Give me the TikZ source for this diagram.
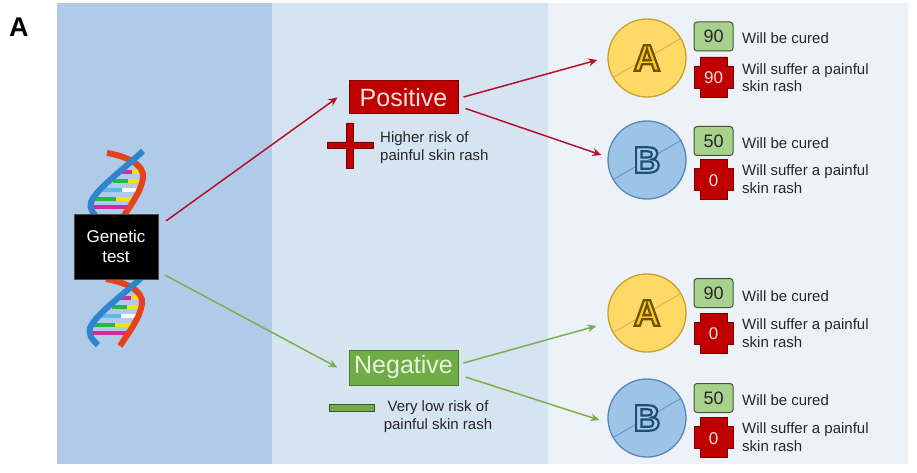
\documentclass[tikz,border=0pt]{standalone}
\usepackage{fontspec}
\setmainfont{Liberation Sans}
\usetikzlibrary{arrows.meta}

\definecolor{panelone}{HTML}{AFCBE8}
\definecolor{paneltwo}{HTML}{D6E4F2}
\definecolor{panelthree}{HTML}{EDF2F9}
\definecolor{posred}{HTML}{C00000}
\definecolor{posdark}{HTML}{7A0000}
\definecolor{postext}{HTML}{F8E0E0}
\definecolor{neggreen}{HTML}{70AD47}
\definecolor{negdark}{HTML}{4E7A30}
\definecolor{negtext}{HTML}{E8F3DF}
\definecolor{arrowred}{HTML}{B8102A}
\definecolor{arrowgreen}{HTML}{78B04E}
\definecolor{curegreen}{HTML}{A9D18E}
\definecolor{curedark}{HTML}{3F5A2E}
\definecolor{pillyellow}{HTML}{FFD966}
\definecolor{pillgold}{HTML}{C9A227}
\definecolor{lettergold}{HTML}{FFC61A}
\definecolor{pillblue}{HTML}{9DC3E6}
\definecolor{pillnavy}{HTML}{5B87B8}
\definecolor{letterblue}{HTML}{A9CBEA}
\definecolor{dnared}{HTML}{E4421A}
\definecolor{dnablue}{HTML}{2F84CC}
\definecolor{runggreen}{HTML}{2BB34A}
\definecolor{rungyellow}{HTML}{F2E30C}
\definecolor{rungmagenta}{HTML}{CF2C9D}
\definecolor{rungblue}{HTML}{5BB8E8}
\definecolor{bodytext}{HTML}{262626}

% outlined glyphs: fill in the current colour, stroke with the given RGB values
\newcommand\strokedglyph[2]{%
  \special{pdf:literal direct 2 Tr 2.2 w #1 RG}#2\special{pdf:literal direct 0 Tr}}

% red cross badge: centre x, centre y, number, node name
\newcommand\rashcross[4]{%
  \draw[crossline] ({#1-19.5},{#2-11}) -- ({#1-13.5},{#2-11}) -- ({#1-13.5},{#2-20})
    -- ({#1+13.5},{#2-20}) -- ({#1+13.5},{#2-11}) -- ({#1+19.5},{#2-11})
    -- ({#1+19.5},{#2+11}) -- ({#1+13.5},{#2+11}) -- ({#1+13.5},{#2+20})
    -- ({#1-13.5},{#2+20}) -- ({#1-13.5},{#2+11}) -- ({#1-19.5},{#2+11}) -- cycle;
  \node[crosstext] (#4) at (#1,{#2+1}) {#3};}

\tikzset{
  gtbox/.style={fill=black, draw=black!70, text=white, minimum width=84pt,
    minimum height=65pt, inner sep=0pt, align=center,
    font=\fontsize{17}{20}\selectfont},
  posbox/.style={fill=posred, draw=posdark, line width=1pt, text=postext,
    minimum width=109pt, minimum height=33pt, inner sep=0pt,
    font=\fontsize{25}{28}\selectfont},
  negbox/.style={fill=neggreen, draw=negdark, line width=1pt, text=negtext,
    minimum width=109pt, minimum height=35pt, inner sep=0pt,
    font=\fontsize{25}{28}\selectfont},
  note/.style={inner sep=0pt, text=bodytext, font=\fontsize{15}{17.5}\selectfont},
  pill/.style={circle, minimum size=78pt, inner sep=0pt, line width=1.3pt},
  pillletter/.style={inner sep=0pt, font=\bfseries\fontsize{37}{40}\selectfont},
  curedbox/.style={rounded corners=3pt, fill=curegreen, draw=curedark,
    line width=1pt, minimum width=39pt, minimum height=29pt, inner sep=0pt,
    text=black!85, font=\fontsize{18}{20}\selectfont},
  crossline/.style={fill=posred, draw=posdark, line width=0.9pt},
  crosstext/.style={inner sep=0pt, text=postext, font=\fontsize{17}{20}\selectfont},
  redarrow/.style={draw=arrowred, line width=1.5pt, -{Stealth[length=9pt,width=8pt]}},
  greenarrow/.style={draw=arrowgreen, line width=1.5pt, -{Stealth[length=9pt,width=8pt]}},
  % one turn of a double helix with horizontal base pairs
  dnahelix/.pic={
    \foreach \yy/\xl/\xr/\ca/\cb in {22/37/57/rungmagenta/rungyellow,
        31/28/58/runggreen/rungyellow, 40/18/56/rungblue/white,
        49/10/51/runggreen/rungyellow, 57/7/46/rungmagenta/rungmagenta}{
      \draw[line width=4.5pt, \ca] (\xl,\yy) -- ({(\xl+\xr)/2},\yy);
      \draw[line width=4.5pt, \cb] ({(\xl+\xr)/2},\yy) -- (\xr,\yy);
    }
    \draw[dnared, line width=6pt] (22,3) .. controls (40,6) and (60,14) .. (58,28)
      .. controls (56,42) and (45,56) .. (36,70);
    \draw[dnablue, line width=6pt] (58,1) .. controls (38,20) and (12,38) .. (6,52)
      .. controls (4,58) and (8,64) .. (14,69);
  }
}

\begin{document}
\begin{tikzpicture}[x=1pt, y=-1pt]
\useasboundingbox (0,0) rectangle (917,473);

% three background bands
\fill[panelone] (57,3) rectangle (272,464);
\fill[paneltwo] (272,3) rectangle (548,464);
\fill[panelthree] (548,3) rectangle (908,464);

\node[anchor=base west, inner sep=0pt, font=\bfseries\fontsize{27}{30}\selectfont]
  (panellabel) at (9,37) {A};

% DNA strands behind the test box
\pic at (85,150) {dnahelix};
\pic at (84,276) {dnahelix};

\node[gtbox] (gt) at (116,246.5) {Genetic\\test};

% outcome boxes
\node[posbox] (pos) at (403.5,97.5) {Positive};
\node[negbox] (neg) at (403.5,367.5) {Negative};

% risk markers
\draw[crossline, line width=0.8pt] (346.5,123) -- (353.5,123) -- (353.5,142) -- (373,142)
  -- (373,148) -- (353.5,148) -- (353.5,168) -- (346.5,168) -- (346.5,148)
  -- (327,148) -- (327,142) -- (346.5,142) -- cycle;
\node[note, anchor=west, align=left] (hirisk) at (380,147.5)
  {Higher risk of\\painful skin rash};
\node[fill=neggreen, draw=curedark, line width=0.9pt, minimum width=45pt,
  minimum height=7pt, inner sep=0pt] (lowbar) at (351.5,407.5) {};
\node[note, align=center] (lowrisk) at (438,416.5)
  {Very low risk of\\painful skin rash};

% treatment pills
\foreach \nm/\cy in {pa/58, na/313}{
  \node[pill, fill=pillyellow, draw=pillgold] (\nm) at (647,\cy) {};
  \draw[pillgold!80, line width=0.9pt] (\nm.210) -- (\nm.30);
  \node[pillletter, text=lettergold] (\nm let) at (647,\cy) {\strokedglyph{0.42 0.32 0}{A}};
}
\foreach \nm/\cy in {pb/160, nb/418}{
  \node[pill, fill=pillblue, draw=pillnavy] (\nm) at (647,\cy) {};
  \draw[pillnavy!90, line width=0.9pt] (\nm.210) -- (\nm.30);
  \node[pillletter, text=letterblue] (\nm let) at (647,\cy) {\strokedglyph{0.12 0.31 0.47}{B}};
}

% connectors
\draw[redarrow] ([shift={(8pt,-7pt)}]gt.north east) -- ([xshift=-11pt]pos.west);
\draw[greenarrow] ([shift={(7pt,4pt)}]gt.south east) -- ([xshift=-11pt]neg.west);
\draw[redarrow] ([shift={(5pt,0.5pt)}]pos.east) -- ([shift={(-10pt,-2pt)}]pa.west);
\draw[redarrow] ([shift={(7pt,6pt)}]pos.south east) -- ([shift={(-6pt,5pt)}]pb.west);
\draw[greenarrow] ([shift={(5pt,4.5pt)}]neg.east) -- ([shift={(-11pt,-13pt)}]na.west);
\draw[greenarrow] ([shift={(7pt,-9.5pt)}]neg.east) -- ([shift={(-8pt,-2pt)}]nb.west);

% outcome figures
\node[curedbox] (c1) at (713.5,36.5) {90};
\node[note, anchor=west] (c1t) at (742,38) {Will be cured};
\rashcross{713.5}{77}{90}{r1}
\node[note, anchor=west, align=left] (r1t) at (742,77.5) {Will suffer a painful\\skin rash};

\node[curedbox] (c2) at (713.5,141) {50};
\node[note, anchor=west] (c2t) at (742,143) {Will be cured};
\rashcross{713.5}{179.5}{0}{r2}
\node[note, anchor=west, align=left] (r2t) at (742,179) {Will suffer a painful\\skin rash};

\node[curedbox] (c3) at (713.5,293) {90};
\node[note, anchor=west] (c3t) at (742,296) {Will be cured};
\rashcross{713.5}{333}{0}{r3}
\node[note, anchor=west, align=left] (r3t) at (742,333) {Will suffer a painful\\skin rash};

\node[curedbox] (c4) at (713.5,398) {50};
\node[note, anchor=west] (c4t) at (742,400) {Will be cured};
\rashcross{713.5}{437.5}{0}{r4}
\node[note, anchor=west, align=left] (r4t) at (742,437) {Will suffer a painful\\skin rash};
\end{tikzpicture}
\end{document}
